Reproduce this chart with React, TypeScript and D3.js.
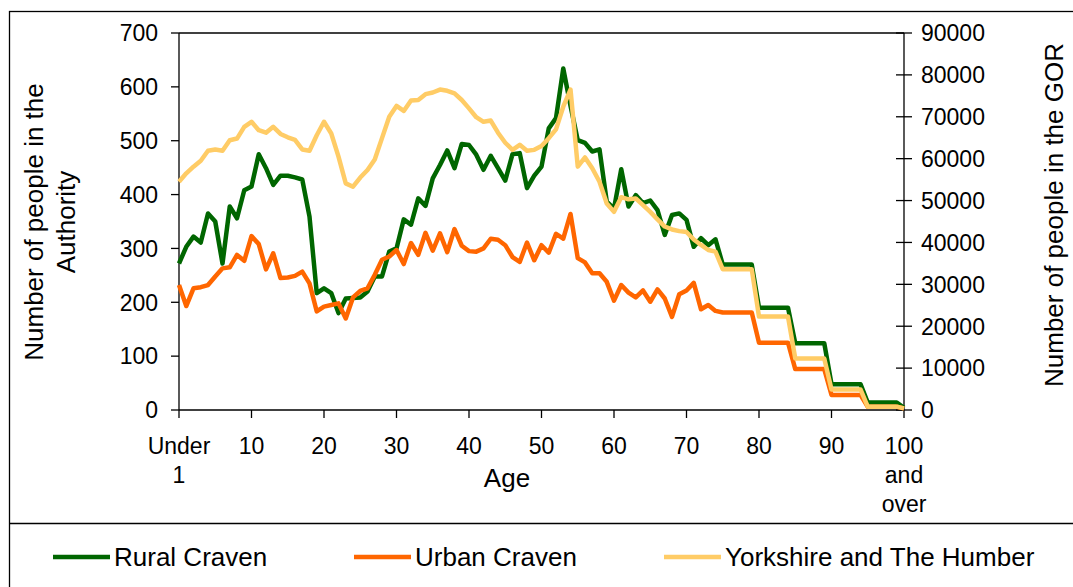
import React from 'react';
import * as d3 from 'd3';

// single years of age, 0 = "Under 1", 100 = "100 and over"
const ages = d3.range(0, 101);

const ruralCraven = [
  272, 303, 322, 311, 365, 350, 272, 378, 356, 408,
  415, 475, 449, 418, 435, 435, 432, 428, 359, 217,
  226, 217, 180, 207, 208, 209, 220, 248, 248, 294,
  300, 354, 344, 393, 379, 430, 455, 482, 449, 494,
  492, 474, 446, 472, 449, 426, 475, 477, 412, 435,
  452, 523, 542, 634, 565, 501, 496, 480, 484, 387,
  374, 447, 378, 399, 384, 389, 371, 325, 362, 365,
  353, 303, 319, 306, 317, 270, 270, 270, 270, 270,
  190, 190, 190, 190, 190, 124, 124, 124, 124, 124,
  48, 48, 48, 48, 48, 14, 14, 14, 14, 14,
  4,
];

const urbanCraven = [
  232, 193, 226, 228, 232, 248, 263, 265, 288, 277,
  323, 308, 261, 291, 245, 246, 249, 257, 235, 183,
  192, 195, 198, 170, 209, 221, 226, 251, 279, 285,
  297, 271, 310, 288, 329, 296, 328, 293, 336, 305,
  295, 294, 300, 318, 316, 306, 284, 275, 311, 278,
  306, 292, 327, 318, 364, 282, 274, 254, 254, 238,
  203, 232, 218, 209, 222, 201, 224, 207, 173, 215,
  222, 236, 187, 195, 184, 181, 181, 181, 181, 181,
  125, 125, 125, 125, 125, 76, 76, 76, 76, 76,
  28, 28, 28, 28, 28, 6, 6, 6, 6, 6,
  3,
];

const yorkshire = [
  54500, 56500, 58100, 59500, 61900, 62200, 61900, 64400, 64800, 67600,
  68800, 66800, 66200, 67600, 65900, 65100, 64500, 62200, 61900, 65600,
  68800, 66000, 60500, 54100, 53300, 55500, 57300, 59800, 64900, 70000,
  72600, 71400, 73900, 74000, 75400, 75800, 76500, 76200, 75600, 74000,
  72000, 69900, 68800, 69100, 66200, 63800, 62100, 63300, 61900, 62100,
  63000, 64900, 67000, 72400, 76500, 58100, 60300, 57700, 54500, 49300,
  47300, 50800, 50300, 50500, 48900, 47300, 45500, 43800, 43100, 42700,
  42500, 40700, 39400, 38200, 37800, 33600, 33600, 33600, 33600, 33600,
  22300, 22300, 22300, 22300, 22300, 12300, 12300, 12300, 12300, 12300,
  4900, 4900, 4900, 4900, 4900, 800, 800, 800, 800, 800,
  400,
];

const leftTicks = [0, 100, 200, 300, 400, 500, 600, 700];
const rightTicks = [0, 10000, 20000, 30000, 40000, 50000, 60000, 70000, 80000, 90000];
const xTicks = [0, 10, 20, 30, 40, 50, 60, 70, 80, 90, 100];
const xTickLabels: Record<number, string[]> = {
  0: ['Under', '1'],
  100: ['100', 'and', 'over'],
};

const series = [
  { name: 'Rural Craven', color: '#006600', values: ruralCraven, axis: 'left' },
  { name: 'Urban Craven', color: '#FF6600', values: urbanCraven, axis: 'left' },
  { name: 'Yorkshire and The Humber', color: '#FFCC66', values: yorkshire, axis: 'right' },
];

const W = 1073;
const H = 587;
const font = '"Liberation Sans", Arial, sans-serif';

export default function App() {
  const left = 179, right = 904, top = 33, bottom = 410;

  const x = d3.scaleLinear().domain([0, 100]).range([left, right]);
  const yL = d3.scaleLinear().domain([0, 700]).range([bottom, top]);
  const yR = d3.scaleLinear().domain([0, 90000]).range([bottom, top]);

  const legendX = [53, 354, 664];

  return (
    <svg width={W} height={H} style={{ position: 'absolute', left: 0, top: 0, background: '#fff' }}
      fontFamily={font}>
      {/* outer frame */}
      <rect x={9.5} y={11.5} width={W + 20} height={H + 20} fill="none" stroke="#000" strokeWidth={1.3} />
      <line x1={9} x2={W} y1={523.5} y2={523.5} stroke="#000" strokeWidth={1.3} />

      {/* plot frame */}
      <line x1={left} x2={right} y1={top} y2={top} stroke="#000" strokeWidth={1.3} />
      <line x1={left} x2={left} y1={top} y2={bottom} stroke="#000" strokeWidth={1.3} />
      <line x1={right} x2={right} y1={top} y2={bottom} stroke="#000" strokeWidth={1.3} />
      <line x1={left} x2={right} y1={bottom} y2={bottom} stroke="#000" strokeWidth={1.3} />

      {/* left axis */}
      {leftTicks.map(t => (
        <g key={'l' + t}>
          <line x1={left - 8} x2={left} y1={yL(t)} y2={yL(t)} stroke="#000" strokeWidth={1.3} />
          <text x={158} y={yL(t)} dy="0.36em" textAnchor="end" fontSize={23}>{t}</text>
        </g>
      ))}

      {/* right axis */}
      {rightTicks.map(t => (
        <g key={'r' + t}>
          <line x1={right - 8} x2={right + 8} y1={yR(t)} y2={yR(t)} stroke="#000" strokeWidth={1.3} />
          <text x={921} y={yR(t)} dy="0.36em" textAnchor="start" fontSize={23}>{t}</text>
        </g>
      ))}

      {/* x axis */}
      {xTicks.map(t => (
        <g key={'x' + t}>
          <line x1={x(t)} x2={x(t)} y1={bottom} y2={bottom + 8} stroke="#000" strokeWidth={1.3} />
          {(xTickLabels[t] || [String(t)]).map((s, i) => (
            <text key={i} x={x(t)} y={454 + i * 29} textAnchor="middle" fontSize={23}>{s}</text>
          ))}
        </g>
      ))}

      {/* axis titles */}
      <text x={507} y={487} textAnchor="middle" fontSize={26}>Age</text>
      <text transform="translate(43,222) rotate(-90)" textAnchor="middle" fontSize={26}>Number of people in the</text>
      <text transform="translate(75,222) rotate(-90)" textAnchor="middle" fontSize={26}>Authority</text>
      <text transform="translate(1063,215) rotate(-90)" textAnchor="middle" fontSize={26}>Number of people in the GOR</text>

      {/* series */}
      {series.map(s => {
        const y = s.axis === 'left' ? yL : yR;
        const line = d3.line<number>()
          .x((_, i) => x(ages[i]))
          .y(v => y(v));
        return (
          <path key={s.name} d={line(s.values) || ''} fill="none" stroke={s.color}
            strokeWidth={4.5} strokeLinejoin="round" strokeLinecap="butt" />
        );
      })}

      {/* legend */}
      {series.map((s, i) => (
        <g key={'lg' + s.name} transform={`translate(${legendX[i]},557)`}>
          <line x1={0} x2={57} y1={0} y2={0} stroke={s.color} strokeWidth={4.5} />
          <text x={61} y={0} dy="0.36em" fontSize={26}>{s.name}</text>
        </g>
      ))}
    </svg>
  );
}
